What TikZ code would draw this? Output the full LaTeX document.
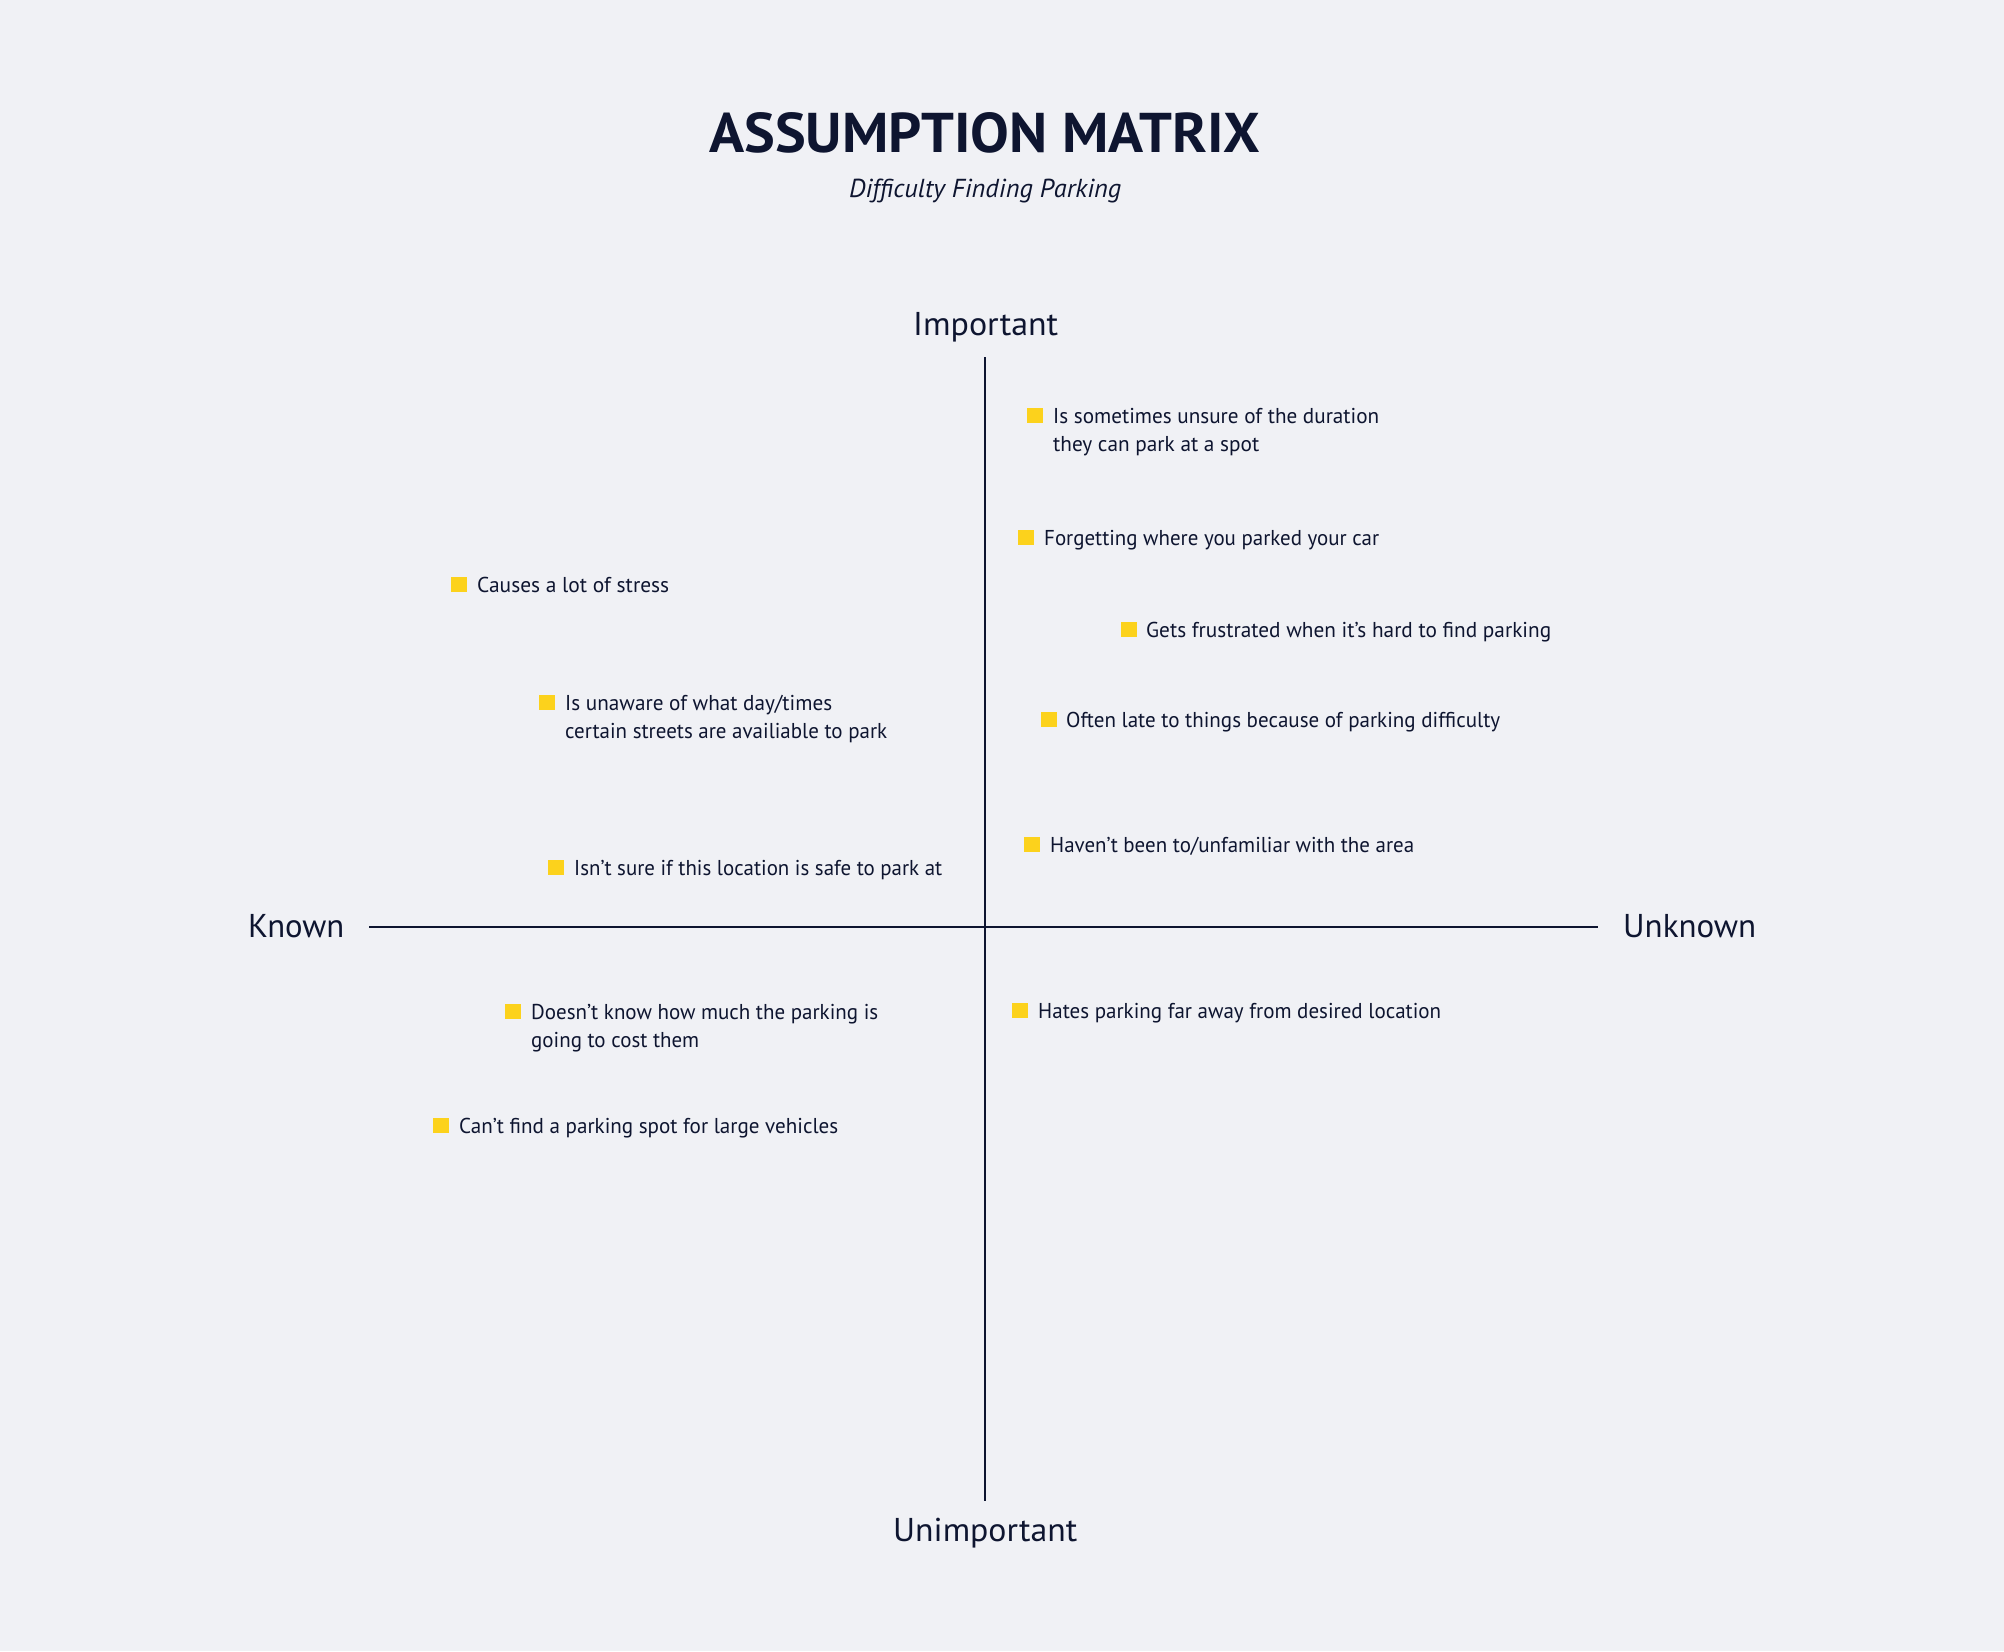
\documentclass[tikz,border=0pt]{standalone}
\usepackage{fontspec}
\setmainfont{PT Sans}
\usepackage{graphicx}
\definecolor{bgc}{HTML}{F0F1F5}
\definecolor{ink}{HTML}{0E1530}
\definecolor{sqc}{HTML}{FCD21C}
\newcommand{\fw}[2]{\resizebox{#1pt}{\height}{#2}}
\newcommand{\twolines}[2]{\vtop{\baselineskip=28pt\hbox{#1}\hbox{#2}}}
\tikzset{
  sq/.style={fill=sqc, draw=none, minimum width=16pt, minimum height=15pt, inner sep=0pt, anchor=south west},
  item/.style={anchor=base west, inner sep=0pt, text=ink, font=\fontsize{21.5}{28}\selectfont},
  axlabel/.style={anchor=base west, inner sep=0pt, text=ink, font=\fontsize{33}{40}\selectfont},
  axis/.style={draw=ink, line width=2pt}
}
\begin{document}
\begin{tikzpicture}[x=1pt,y=-1pt]
\fill[bgc] (0,0) rectangle (2004,1651);
\useasboundingbox (0,0) rectangle (2004,1651);

% title
\node[anchor=base west, inner sep=0pt, text=ink, font=\fontsize{56}{60}\bfseries\selectfont] (title) at (709,152) {\fw{551}{ASSUMPTION MATRIX}};
\node[anchor=base west, inner sep=0pt, text=ink, font=\fontsize{26}{30}\itshape\selectfont] (subtitle) at (849,197) {\fw{272}{Difficulty Finding Parking}};

% axes
\coordinate (top) at (985,357);
\coordinate (bottom) at (985,1501);
\coordinate (left) at (369,927);
\coordinate (right) at (1598,927);
\draw[axis] (top) -- (bottom);
\draw[axis] (left) -- (right);

\node[axlabel] (imp) at (913,335) {\fw{145}{Important}};
\node[axlabel] (unimp) at (893,1541) {\fw{184}{Unimportant}};
\node[axlabel] (known) at (248,937) {\fw{96}{Known}};
\node[axlabel] (unknown) at (1623,937) {\fw{133}{Unknown}};

% items
\node[sq] (s1) at (1027,423) {};
\node[item] (t1) at (1053,423) {\twolines{\fw{326}{Is sometimes unsure of the duration}}{\fw{206}{they can park at a spot}}};

\node[sq] (s2) at (1018,545) {};
\node[item] (t2) at (1044,545) {\fw{335}{Forgetting where you parked your car}};

\node[sq] (s3) at (1121,637) {};
\node[item] (t3) at (1146,637) {\fw{405}{Gets frustrated when it's hard to find parking}};

\node[sq] (s4) at (451,592) {};
\node[item] (t4) at (477,592) {\fw{192}{Causes a lot of stress}};

\node[sq] (s5) at (539,710) {};
\node[item] (t5) at (565,710) {\twolines{\fw{267}{Is unaware of what day/times}}{\fw{322}{certain streets are availiable to park}}};

\node[sq] (s6) at (548,875) {};
\node[item] (t6) at (574,875) {\fw{368}{Isn't sure if this location is safe to park at}};

\node[sq] (s7) at (1041,727) {};
\node[item] (t7) at (1066,727) {\fw{434}{Often late to things because of parking difficulty}};

\node[sq] (s8) at (1024,852) {};
\node[item] (t8) at (1050,852) {\fw{364}{Haven't been to/unfamiliar with the area}};

\node[sq] (s9) at (1012,1018) {};
\node[item] (t9) at (1038,1018) {\fw{403}{Hates parking far away from desired location}};

\node[sq] (s10) at (505,1019) {};
\node[item] (t10) at (531,1019) {\twolines{\fw{347}{Doesn't know how much the parking is}}{\fw{168}{going to cost them}}};

\node[sq] (s11) at (433,1133) {};
\node[item] (t11) at (459,1133) {\fw{379}{Can't find a parking spot for large vehicles}};
\end{tikzpicture}
\end{document}
